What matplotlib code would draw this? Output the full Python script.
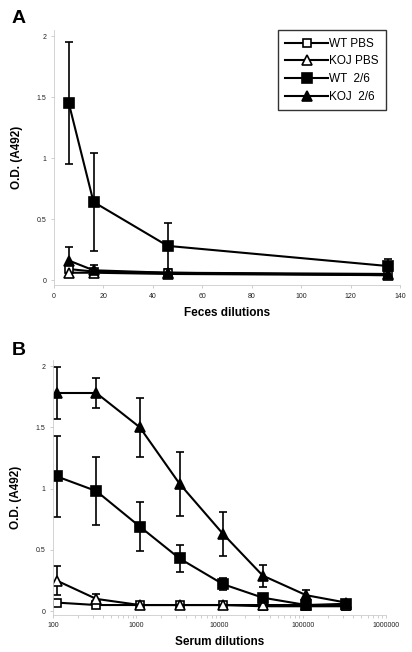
import numpy as np
import matplotlib
matplotlib.use("Agg")
import matplotlib.pyplot as plt

plt.rcParams['font.family'] = ['Liberation Sans', 'DejaVu Sans']

# panel A - feces dilutions
feces_x = [6, 16, 46, 135]
a_wt_pbs = [0.09, 0.07, 0.06, 0.04]
a_wt_pbs_err = [0.02, 0.01, 0.01, 0.01]
a_koj_pbs = [0.06, 0.06, 0.05, 0.04]
a_koj_pbs_err = [0.02, 0.01, 0.01, 0.01]
a_wt_26 = [1.45, 0.64, 0.28, 0.115]
a_wt_26_err = [0.5, 0.40, 0.19, 0.06]
a_koj_26 = [0.16, 0.08, 0.06, 0.05]
a_koj_26_err = [0.11, 0.04, 0.01, 0.01]

# panel B - serum dilutions
serum_x = [110, 330, 1100, 3300, 11000, 33000, 110000, 330000]
b_wt_pbs = [0.07, 0.05, 0.05, 0.05, 0.05, 0.04, 0.04, 0.04]
b_wt_pbs_err = [0.01, 0.01, 0.01, 0.01, 0.01, 0.01, 0.01, 0.01]
b_koj_pbs = [0.25, 0.10, 0.05, 0.05, 0.05, 0.05, 0.05, 0.05]
b_koj_pbs_err = [0.12, 0.04, 0.01, 0.01, 0.01, 0.01, 0.01, 0.01]
b_wt_26 = [1.10, 0.98, 0.69, 0.43, 0.22, 0.11, 0.05, 0.06]
b_wt_26_err = [0.33, 0.28, 0.20, 0.11, 0.05, 0.02, 0.01, 0.01]
b_koj_26 = [1.78, 1.78, 1.50, 1.04, 0.63, 0.29, 0.13, 0.07]
b_koj_26_err = [0.21, 0.12, 0.24, 0.26, 0.18, 0.09, 0.04, 0.01]

labels = ["WT PBS", "KOJ PBS", "WT  2/6", "KOJ  2/6"]
markers = ["s", "^", "s", "^"]
faces = ["white", "white", "black", "black"]
sizes = [6, 6.5, 6.5, 7]

fig = plt.figure(figsize=(4.12, 6.52), dpi=100)
axA = fig.add_axes([0.131, 0.563, 0.840, 0.391])
axB = fig.add_axes([0.129, 0.057, 0.808, 0.391])


def draw(ax, x, series):
    handles = []
    for (y, err), lab, m, fc, ms in zip(series, labels, markers, faces, sizes):
        h = ax.errorbar(x, y, yerr=err, color="black", lw=1.5, elinewidth=1.2,
                        capsize=3, capthick=1.2, marker=m, mfc=fc, mec="black",
                        mew=1.2, ms=ms, label=lab)
        handles.append(h)
    for s in ["top", "right"]:
        ax.spines[s].set_visible(False)
    for s in ["left", "bottom"]:
        ax.spines[s].set_color("#cccccc")
        ax.spines[s].set_linewidth(0.6)
    ax.tick_params(axis="both", which="both", labelsize=5, colors="#bbbbbb",
                   labelcolor="#222222", length=2, width=0.5)
    ax.set_ylim(-0.04, 2.05)
    ax.set_yticks([0, 0.5, 1, 1.5, 2])
    ax.set_yticklabels(["0", "0.5", "1", "1.5", "2"])
    ax.set_ylabel("O.D. (A492)", fontsize=8.5, fontweight="bold", labelpad=10)
    return handles


hA = draw(axA, feces_x, [(a_wt_pbs, a_wt_pbs_err), (a_koj_pbs, a_koj_pbs_err),
                         (a_wt_26, a_wt_26_err), (a_koj_26, a_koj_26_err)])
axA.set_xlim(0, 140)
axA.set_xticks(np.arange(0, 141, 20))
axA.set_xlabel("Feces dilutions", fontsize=8.5, fontweight="bold", labelpad=5)
leg = axA.legend(handles=[h[0] for h in hA], labels=labels, loc="upper right",
                 bbox_to_anchor=(0.96, 1.0), borderaxespad=0, fontsize=8.5,
                 frameon=True, fancybox=False, edgecolor="black",
                 handlelength=3.6, handletextpad=0.1, borderpad=0.65,
                 labelspacing=0.48)
leg.get_frame().set_linewidth(1.0)

draw(axB, serum_x, [(b_wt_pbs, b_wt_pbs_err), (b_koj_pbs, b_koj_pbs_err),
                    (b_wt_26, b_wt_26_err), (b_koj_26, b_koj_26_err)])
axB.set_xscale("log")
axB.set_xlim(100, 1000000)
axB.set_ylim(-0.03, 2.05)
axB.set_xticks([100, 1000, 10000, 100000, 1000000])
axB.set_xticklabels(["100", "1000", "10000", "100000", "1000000"])
axB.set_xlabel("Serum dilutions", fontsize=8.5, fontweight="bold", labelpad=5)
axB.yaxis.set_label_coords(-0.095, 0.46)

fig.text(0.027, 0.972, "A", fontsize=14, fontweight="bold", va="center")
fig.text(0.029, 0.462, "B", fontsize=14, fontweight="bold", va="center")

fig.savefig("out.png", dpi=100)
